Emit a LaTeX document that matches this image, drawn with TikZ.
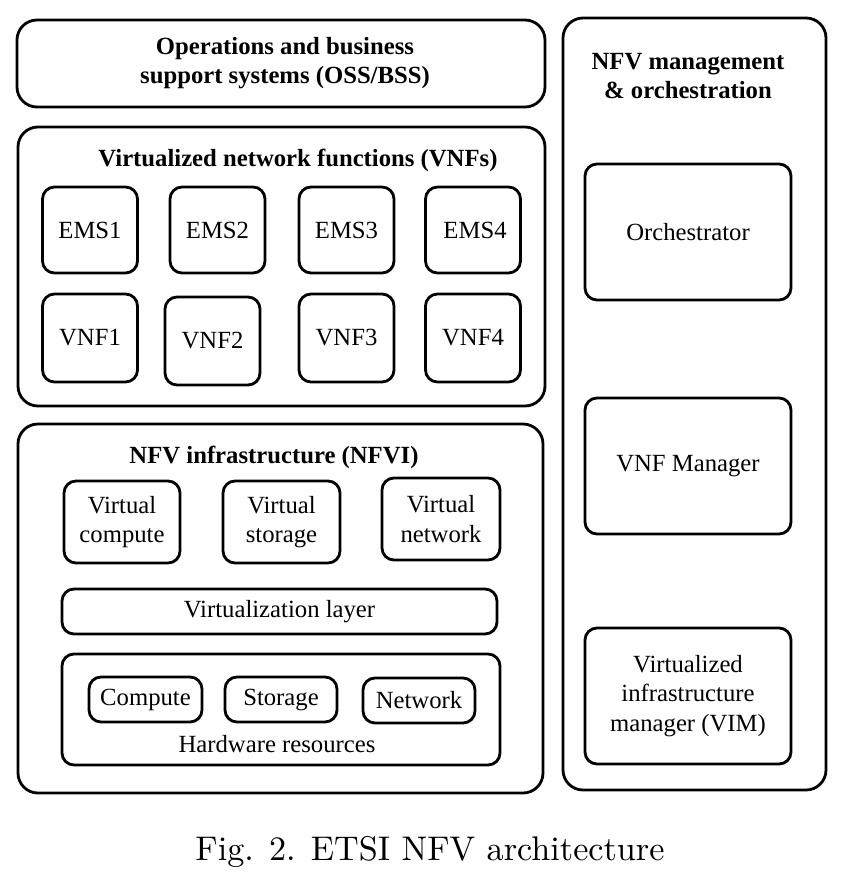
\documentclass[tikz,border=0pt]{standalone}
\usepackage{fontspec}
\newfontfamily\tnr{Liberation Serif}
\newfontfamily\capfont{lmroman10-regular.otf}
\begin{document}
\begin{tikzpicture}[x=1pt,y=-1pt,
  outerbox/.style={draw,line width=2.8pt,rounded corners=20pt,inner sep=0pt},
  innerbox/.style={draw,line width=2.8pt,rounded corners=12pt,inner sep=0pt,align=center,
     font=\tnr\fontsize{24.7}{29.5}\selectfont},
  titletext/.style={inner sep=0pt,align=center,font=\tnr\bfseries\fontsize{24.7}{29}\selectfont},
  plaintext/.style={inner sep=0pt,align=center,font=\tnr\fontsize{24.7}{29}\selectfont}]
\useasboundingbox (0,0) rectangle (845,873);
% OSS/BSS
\node[outerbox,minimum width=528pt,minimum height=87pt] (oss) at (281,63.5) {};
\node[titletext] (osstitle) at (285,63) {Operations and business\\support systems (OSS/BSS)};
% VNFs
\node[outerbox,minimum width=527pt,minimum height=279pt] (vnfs) at (281.5,266.5) {};
\node[titletext] (vnfstitle) at (298,160) {Virtualized network functions (VNFs)};
\node[innerbox,minimum width=95pt,minimum height=86pt] (ems1) at (90,230) {EMS1};
\node[innerbox,minimum width=95pt,minimum height=86pt] (ems2) at (217.5,230) {EMS2};
\node[innerbox,minimum width=95pt,minimum height=86pt] (ems3) at (346.5,230) {EMS3};
\node[innerbox,minimum width=95pt,minimum height=86pt] (ems4) at (473,230) {\,EMS4};
\node[innerbox,minimum width=95pt,minimum height=88pt] (vnf1) at (90,338) {VNF1};
\node[innerbox,minimum width=95pt,minimum height=88pt] (vnf2) at (212.5,341) {VNF2};
\node[innerbox,minimum width=95pt,minimum height=88pt] (vnf3) at (346.5,338) {VNF3};
\node[innerbox,minimum width=95pt,minimum height=88pt] (vnf4) at (473,338) {VNF4};
% NFVI
\node[outerbox,minimum width=525pt,minimum height=369pt] (nfvi) at (280.5,608.5) {};
\node[titletext] (nfvititle) at (274,457) {NFV infrastructure (NFVI)};
\node[innerbox,minimum width=116pt,minimum height=82pt] (vcomp) at (122,522) {Virtual\\compute};
\node[innerbox,minimum width=117pt,minimum height=82pt] (vstor) at (281.5,522) {Virtual\\storage};
\node[innerbox,minimum width=118pt,minimum height=82pt] (vnet) at (441,519) {Virtual\\network};
\node[innerbox,minimum width=435pt,minimum height=45pt] (vlayer) at (279.5,611.5) {Virtualization layer};
\node[innerbox,minimum width=438pt,minimum height=111pt] (hw) at (281,709.5) {};
\node[innerbox,minimum width=113pt,minimum height=45pt] (comp) at (145.5,699.5) {Compute};
\node[innerbox,minimum width=112pt,minimum height=45pt] (stor) at (281,699.5) {Storage};
\node[innerbox,minimum width=112pt,minimum height=45pt] (net) at (419,700.5) {Network};
\node[plaintext] (hwlabel) at (277,744) {Hardware resources};
% MANO
\node[outerbox,minimum width=263pt,minimum height=772pt] (mano) at (694.5,404) {};
\node[titletext] (manotitle) at (688,76) {NFV management\\\& orchestration};
\node[innerbox,minimum width=206pt,minimum height=136pt] (orch) at (688,232) {Orchestrator};
\node[innerbox,minimum width=206pt,minimum height=136pt] (vnfm) at (688,466) {VNF Manager};
\node[innerbox,minimum width=206pt,minimum height=136pt] (vim) at (688,696) {Virtualized\\infrastructure\\manager (VIM)};
% caption
\node[inner sep=0pt,font=\capfont\fontsize{34.2}{41}\selectfont] (caption) at (430,852) {Fig. 2. ETSI NFV architecture};
\end{tikzpicture}
\end{document}
